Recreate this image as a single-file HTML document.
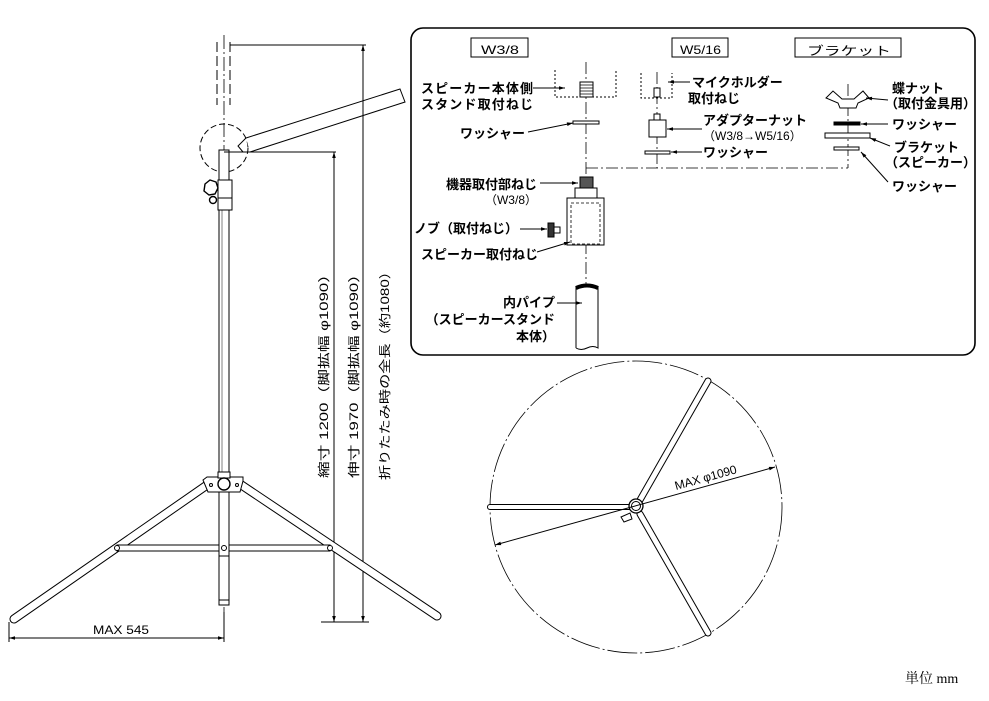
<!DOCTYPE html>
<html><head><meta charset="utf-8"><style>
html,body{margin:0;padding:0;background:#fff;}
svg{display:block;}
.t{font-family:"Liberation Sans","Noto Sans CJK JP",sans-serif;font-size:13px;font-weight:bold;fill:#000;}
.n{font-family:"Liberation Sans","Noto Sans CJK JP",sans-serif;font-size:12px;fill:#000;}
</style></head><body>
<svg width="989" height="701" viewBox="0 0 989 701" xmlns="http://www.w3.org/2000/svg">
<defs>
<marker id="a" viewBox="0 0 10 10" refX="10" refY="5" markerWidth="8" markerHeight="6" orient="auto-start-reverse"><path d="M0,2 L10,5 L0,8 z" fill="#000"/></marker>
</defs>
<g stroke="#000" fill="none" stroke-width="1">
<!-- LEFT STAND -->
<line x1="224" y1="35" x2="224" y2="612" stroke-dasharray="14,3,2,3" stroke-width="0.8"/>
<line x1="217" y1="42" x2="217" y2="105" stroke-dasharray="10,4"/>
<line x1="230" y1="42" x2="230" y2="105" stroke-dasharray="10,4"/>
<circle cx="224" cy="148" r="24" stroke-dasharray="6,3"/>
<path d="M246,138 L400,89 L405,102 L250,152" fill="#fff"/>
<path d="M246,138 L238,146 L243,152"/>
<rect x="219" y="150" width="10" height="325" fill="#fff"/>
<line x1="222" y1="205" x2="222" y2="475" stroke-width="0.5"/>
<rect x="218" y="180" width="14" height="30" fill="#fff"/>
<line x1="218" y1="198" x2="232" y2="198"/>
<path d="M205,184 L210,180 L216,182 L218,188 L215,194 L209,195 L204,191 Z" fill="#fff" stroke-width="1.4"/>
<circle cx="213" cy="200" r="3.5" fill="#fff" stroke-width="1.4"/>
<line x1="224" y1="152" x2="336" y2="152"/>
<line x1="230" y1="45" x2="366" y2="45"/>
<line x1="334" y1="152" x2="334" y2="622" marker-start="url(#a)" marker-end="url(#a)"/>
<line x1="363" y1="45" x2="363" y2="622" marker-start="url(#a)" marker-end="url(#a)"/>
<line x1="321" y1="622" x2="369" y2="622"/>
<!-- legs -->
<path d="M207,485 L14,619" stroke-width="9" stroke-linecap="round"/>
<path d="M207,485 L14,619" stroke-width="7" stroke="#fff" stroke-linecap="round"/>
<path d="M240,484 L437,616" stroke-width="9" stroke-linecap="round"/>
<path d="M240,484 L437,616" stroke-width="7" stroke="#fff" stroke-linecap="round"/>
<rect x="117" y="545" width="213" height="6" fill="#fff"/>
<rect x="219" y="475" width="10" height="130" fill="#fff"/>
<line x1="219" y1="556" x2="229" y2="556"/>
<line x1="219" y1="600" x2="229" y2="600"/>
<circle cx="117" cy="548" r="2.5" fill="#fff"/>
<circle cx="224" cy="548" r="2.5" fill="#fff"/>
<circle cx="330" cy="548" r="2.5" fill="#fff"/>
<path d="M203,480 L207,477 L243,477 L243,481 L240,492 L208,492 Z" fill="#fff"/>
<rect x="218" y="472" width="12" height="6" fill="#fff"/>
<circle cx="224" cy="484" r="6" fill="#fff" stroke-width="1.4"/>
<circle cx="211" cy="485" r="1.5"/><circle cx="237" cy="485" r="1.5"/>
<line x1="9" y1="622" x2="9" y2="642"/>
<line x1="224" y1="612" x2="224" y2="642"/>
<line x1="9" y1="638" x2="224" y2="638" marker-start="url(#a)" marker-end="url(#a)"/>

<!-- PANEL -->
<rect x="411" y="28" width="564" height="327" rx="12" stroke-width="1.6"/>
<rect x="471" y="38" width="57" height="19"/>
<rect x="672" y="38" width="56" height="19"/>
<rect x="795" y="38" width="106" height="19"/>
<line x1="586" y1="62" x2="586" y2="285" stroke-dasharray="12,3,2,3" stroke-width="0.8"/>
<line x1="586" y1="168" x2="848" y2="168" stroke-dasharray="12,3,2,3" stroke-width="0.8"/>
<line x1="848" y1="84" x2="848" y2="168" stroke-dasharray="12,3,2,3" stroke-width="0.8"/>
<line x1="657" y1="72" x2="657" y2="168" stroke-dasharray="12,3,2,3" stroke-width="0.8"/>
<path d="M555,70 L555,97 L616,97 L616,70" stroke-dasharray="2,2"/>
<rect x="580" y="82" width="13" height="15" fill="#fff"/>
<path d="M580,85h13M580,88h13M580,91h13M580,94h13" stroke-width="0.8"/>
<line x1="533" y1="88" x2="565" y2="88" marker-end="url(#a)"/>
<rect x="573" y="121" width="26" height="3" fill="#fff"/>
<line x1="528" y1="132" x2="573" y2="123" marker-end="url(#a)"/>
<path d="M641,73 L641,98 L672,98 L672,73" stroke-dasharray="2,2"/>
<rect x="654" y="88" width="6" height="9" fill="#fff"/>
<line x1="690" y1="82" x2="668" y2="82" marker-end="url(#a)"/>
<rect x="654" y="114" width="6" height="6" fill="#fff"/>
<rect x="649" y="120" width="17" height="17" fill="#fff"/>
<line x1="702" y1="129" x2="667" y2="129" marker-end="url(#a)"/>
<rect x="645" y="151" width="25" height="3" fill="#fff"/>
<line x1="702" y1="152" x2="671" y2="152" marker-end="url(#a)"/>
<path d="M826,98 L833,91 L842,99 L854,99 L863,91 L869,98 L858,103 L856,108 L840,108 L838,103 Z" fill="#fff"/>
<line x1="888" y1="100" x2="866" y2="98" marker-end="url(#a)"/>
<rect x="834" y="122" width="26" height="3" fill="#000"/>
<line x1="888" y1="124" x2="861" y2="124" marker-end="url(#a)"/>
<rect x="825" y="133" width="45" height="5" fill="#fff"/>
<line x1="890" y1="146" x2="870" y2="138" marker-end="url(#a)"/>
<rect x="834" y="147" width="25" height="3" fill="#fff"/>
<line x1="888" y1="182" x2="861" y2="152" marker-end="url(#a)"/>
<line x1="540" y1="183" x2="578" y2="183" marker-end="url(#a)"/>
<rect x="580" y="177" width="13" height="11" fill="#555"/>
<rect x="575" y="188" width="22" height="10" fill="#fff"/>
<rect x="567" y="198" width="37" height="47" fill="#fff"/>
<rect x="571" y="203" width="29" height="41" stroke-dasharray="3,2" stroke-width="0.8"/>
<rect x="548" y="223" width="6" height="14" fill="#333"/>
<rect x="554" y="227" width="6" height="6" fill="#fff"/>
<line x1="520" y1="229" x2="547" y2="229" marker-end="url(#a)"/>
<line x1="537" y1="252" x2="570" y2="242" marker-end="url(#a)"/>
<path d="M576,348 L576,287 Q587,283 598,287 L598,348 Q593,345 587,348 Q581,351 576,348" fill="#fff"/>
<path d="M576,288 Q587,283 598,288" stroke-width="4"/>
<line x1="557" y1="303" x2="582" y2="303" marker-end="url(#a)"/>

<!-- CIRCLE VIEW -->
<circle cx="636" cy="507" r="146" stroke-dasharray="30,3,2,3" stroke-width="0.8"/>
<path d="M630,507 L490,507" stroke-width="6" stroke-linecap="round"/>
<path d="M630,507 L490,507" stroke-width="4" stroke="#fff" stroke-linecap="round"/>
<path d="M640,500 L708,381" stroke-width="7" stroke-linecap="round"/>
<path d="M640,500 L708,381" stroke-width="5" stroke="#fff" stroke-linecap="round"/>
<path d="M640,514 L708,633" stroke-width="7" stroke-linecap="round"/>
<path d="M640,514 L708,633" stroke-width="5" stroke="#fff" stroke-linecap="round"/>
<circle cx="636" cy="506" r="7" fill="#fff" stroke-width="1.3"/>
<circle cx="636" cy="506" r="4.5"/>
<path d="M621,517 L630,513 L632,519 L624,522 Z" fill="#fff"/>
<line x1="495" y1="545" x2="775" y2="467" marker-start="url(#a)" marker-end="url(#a)"/>
</g>

<!-- TEXT -->
<text class="n" x="93" y="634" font-size="15" textLength="56" lengthAdjust="spacingAndGlyphs">MAX 545</text>
<text class="n" font-size="15" transform="translate(328,478) rotate(-90)" textLength="212" lengthAdjust="spacingAndGlyphs">縮寸 1200（脚拡幅 φ1090）</text>
<text class="n" font-size="15" transform="translate(358,478) rotate(-90)" textLength="212" lengthAdjust="spacingAndGlyphs">伸寸 1970（脚拡幅 φ1090）</text>
<text class="n" font-size="15" transform="translate(389,480) rotate(-90)" textLength="216" lengthAdjust="spacingAndGlyphs">折りたたみ時の全長（約1080）</text>

<text class="n" x="481" y="54" font-size="16" textLength="38" lengthAdjust="spacingAndGlyphs">W3/8</text>
<text class="n" x="680" y="54" font-size="16" textLength="41" lengthAdjust="spacingAndGlyphs">W5/16</text>
<text class="n" x="807" y="55" font-size="16" textLength="84" lengthAdjust="spacingAndGlyphs">ブラケット</text>

<text class="t" x="421" y="93" textLength="112">スピーカー本体側</text>
<text class="t" x="421" y="109" textLength="112">スタンド取付ねじ</text>
<text class="t" x="460" y="138">ワッシャー</text>
<text class="t" x="692" y="87">マイクホルダー</text>
<text class="t" x="688" y="103">取付ねじ</text>
<text class="t" x="703" y="125">アダプターナット</text>
<text class="n" x="703" y="140" font-size="12">（W3/8→W5/16）</text>
<text class="t" x="703" y="157">ワッシャー</text>
<text class="t" x="892" y="93">蝶ナット</text>
<text class="t" x="885" y="108">（取付金具用）</text>
<text class="t" x="892" y="129">ワッシャー</text>
<text class="t" x="894" y="152">ブラケット</text>
<text class="t" x="885" y="167">（スピーカー）</text>
<text class="t" x="892" y="191">ワッシャー</text>
<text class="t" x="537" y="189" text-anchor="end">機器取付部ねじ</text>
<text class="n" x="537" y="204" text-anchor="end" font-size="12">（W3/8）</text>
<text class="t" x="518" y="233" text-anchor="end">ノブ（取付ねじ）</text>
<text class="t" x="421" y="259">スピーカー取付ねじ</text>
<text class="t" x="555" y="307" text-anchor="end">内パイプ</text>
<text class="t" x="555" y="324" text-anchor="end">（スピーカースタンド</text>
<text class="t" x="555" y="341" text-anchor="end">本体）</text>

<text class="n" font-size="14" transform="translate(676,490) rotate(-15.5)">MAX φ1090</text>
<text x="905" y="683" style="font-family:'Liberation Serif','Noto Serif CJK SC',serif;font-size:14px;">単位 mm</text>
</svg>
</body></html>
